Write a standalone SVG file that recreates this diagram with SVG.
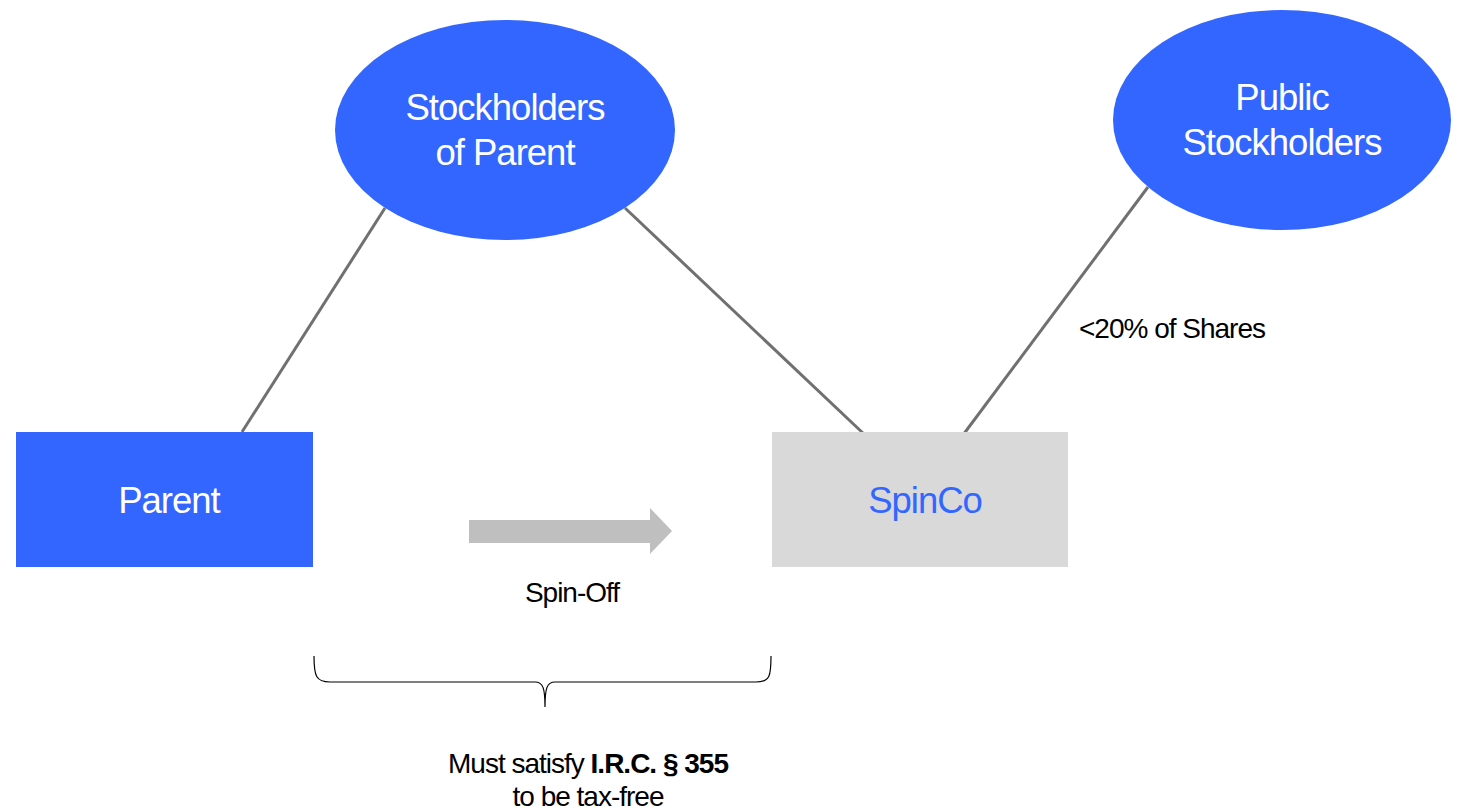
<svg xmlns="http://www.w3.org/2000/svg" width="1460" height="810" viewBox="0 0 1460 810">
<style>
text{font-family:"Liberation Sans",Arial,sans-serif;}
.big{font-size:36.5px;fill:#fff;text-anchor:middle;letter-spacing:-1px;}
.lbl{font-size:28px;fill:#000;letter-spacing:-1px;}
.conn{stroke:#707070;stroke-width:3;fill:none;}
</style>
<rect width="1460" height="810" fill="#fff"/>
<g id="connectors">
<line class="conn" x1="385" y1="208" x2="242" y2="432"/>
<line class="conn" x1="625" y1="208" x2="865" y2="435"/>
<line class="conn" x1="1148" y1="187" x2="963" y2="435"/>
</g>
<g id="stockholders-parent">
<ellipse cx="505" cy="130" rx="170" ry="110" fill="#3366ff"/>
<text class="big" x="505" y="120">Stockholders</text>
<text class="big" x="505" y="165">of Parent</text>
</g>
<g id="public-stockholders">
<ellipse cx="1282" cy="120" rx="169" ry="110" fill="#3366ff"/>
<text class="big" x="1282" y="110">Public</text>
<text class="big" x="1282" y="155">Stockholders</text>
</g>
<g id="parent">
<rect x="16" y="432" width="297" height="135" fill="#3366ff"/>
<text class="big" x="169" y="513">Parent</text>
</g>
<g id="spinco">
<rect x="772" y="432" width="296" height="135" fill="#d9d9d9"/>
<text class="big" x="925" y="513" style="fill:#3366ff">SpinCo</text>
</g>
<g id="spin-off">
<polygon points="469,520 650,520 650,508 672,531 650,554 650,543 469,543" fill="#bfbfbf"/>
<text class="lbl" x="572" y="602" text-anchor="middle">Spin-Off</text>
</g>
<text class="lbl" x="1079" y="338">&lt;20% of Shares</text>
<g id="brace">
<path d="M314,656 C314,676 316,682 330,682 L535,682 C543,682 545,688 545,707 C545,688 547,682 555,682 L756,682 C770,682 771,676 771,656" fill="none" stroke="#000" stroke-width="1.2"/>
</g>
<g id="note">
<text class="lbl" x="588" y="773" text-anchor="middle">Must satisfy <tspan font-weight="bold">I.R.C. § 355</tspan></text>
<text class="lbl" x="588" y="806" text-anchor="middle">to be tax-free</text>
</g>
</svg>
